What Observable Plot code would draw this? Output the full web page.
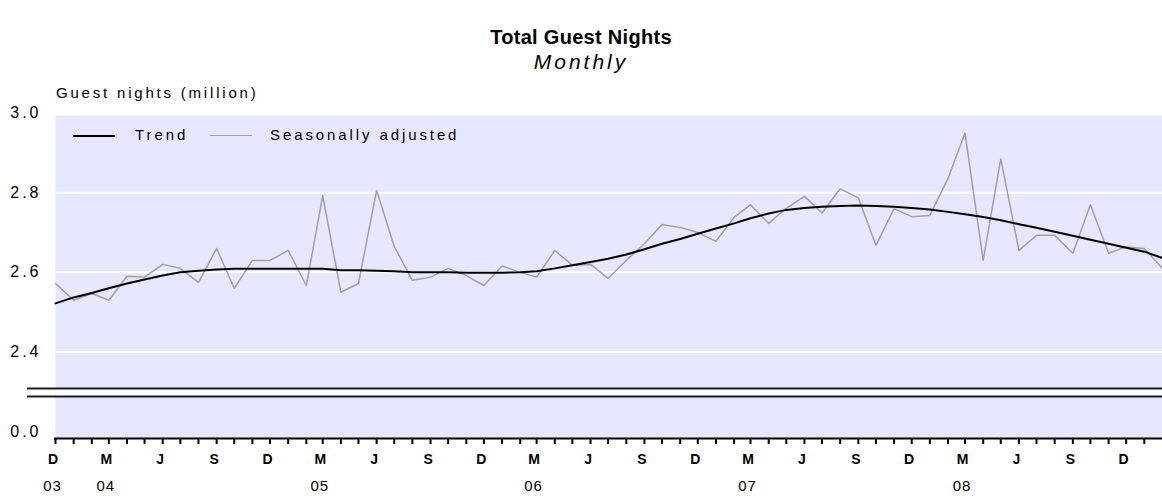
<!DOCTYPE html>
<html>
<head>
<meta charset="utf-8">
<script src="https://cdn.jsdelivr.net/npm/d3@7"></script>
<script src="https://cdn.jsdelivr.net/npm/@observablehq/plot@0.6"></script>
<style>
  body { margin: 0; background: #fff; font-family: "Liberation Sans", Arial, sans-serif; }
  #wrap { position: relative; width: 1162px; height: 497px; overflow: hidden; }
  #head { position: relative; height: 100px; }
  .abs { position: absolute; white-space: nowrap; color: #000; }
  #title { left: 0; width: 1162px; text-align: center; top: 25px; line-height: 24px; font-size: 20px; font-weight: bold; letter-spacing: 0.3px; }
  #subtitle { left: 0; width: 1162px; text-align: center; top: 50px; line-height: 24px; font-size: 21px; font-style: italic; letter-spacing: 3px; }
  #ylabel { left: 56px; top: 84px; line-height: 18px; font-size: 15px; letter-spacing: 2.8px; }
  #legend { left: 73px; top: 126px; height: 18px; line-height: 18px; font-size: 15px; letter-spacing: 2.9px; }
  .sw { position: absolute; top: 9px; height: 0; }
  svg [aria-label="y-axis tick label"] text { letter-spacing: 3px; }
  svg [aria-label="x-axis tick label"] text { letter-spacing: 1px; }
</style>
</head>
<body>
<div id="wrap">
  <div id="head">
    <div id="title" class="abs"></div>
    <div id="subtitle" class="abs"></div>
    <div id="ylabel" class="abs"></div>
  </div>
  <div id="chart"></div>
  <div id="legend" class="abs"></div>
</div>
<script>
// ---- Data ----
const titleText = "Total Guest Nights";
const subtitleText = "Monthly";
const yLabelText = "Guest nights (million)";
const seriesNames = ["Trend", "Seasonally adjusted"];
const seriesColors = ["#000000", "#a0a0a0"];

// Months Dec 2003 .. Feb 2009
const firstMonth = new Date(Date.UTC(2003, 11, 1));
const endMonth = new Date(Date.UTC(2009, 2, 1));
const months = d3.utcMonth.range(firstMonth, endMonth);

const seasonallyAdjusted = [
  2.572,
  2.530, 2.547, 2.530, 2.590, 2.588, 2.620, 2.610, 2.575, 2.660, 2.560, 2.630, 2.630,
  2.655, 2.567, 2.793, 2.550, 2.572, 2.806, 2.665, 2.580, 2.588, 2.610, 2.592, 2.567,
  2.616, 2.600, 2.588, 2.655, 2.618, 2.620, 2.585, 2.630, 2.672, 2.720, 2.713, 2.700,
  2.678, 2.738, 2.770, 2.723, 2.761, 2.791, 2.749, 2.810, 2.787, 2.668, 2.760, 2.740,
  2.743, 2.836, 2.950, 2.630, 2.885, 2.655, 2.693, 2.693, 2.648, 2.770, 2.648, 2.664,
  2.660, 2.610
];
const trend = [
  2.522,
  2.537, 2.548, 2.560, 2.572, 2.582, 2.592, 2.600, 2.604, 2.607, 2.609, 2.609, 2.609,
  2.609, 2.609, 2.609, 2.605, 2.605, 2.604, 2.603, 2.600, 2.600, 2.600, 2.599, 2.599,
  2.599, 2.600, 2.603, 2.610, 2.618, 2.626, 2.634, 2.645, 2.658, 2.672, 2.684, 2.697,
  2.710, 2.723, 2.736, 2.748, 2.757, 2.762, 2.765, 2.767, 2.768, 2.767, 2.765, 2.762,
  2.758, 2.752, 2.746, 2.739, 2.731, 2.721, 2.712, 2.702, 2.692, 2.682, 2.672, 2.662,
  2.652, 2.636
];

// Axis ticks and labels
const yTicks = [0, 2.4, 2.6, 2.8, 3.0];
const gridValues = [2.4, 2.6, 2.8];
const axisBreak = [2.288, 2.308];
const breakStart = 2.25;   // values below this are compressed (broken axis)
const monthLetters = ["J","F","M","A","M","J","J","A","S","O","N","D"];
const tickMonths = d3.utcMonth.range(firstMonth, new Date(Date.UTC(2009, 1, 1)));
const labelMonths = tickMonths.filter(d => d.getUTCMonth() % 3 === 2);
const yearLabelMonths = [
  new Date(Date.UTC(2003, 11, 1)), new Date(Date.UTC(2004, 2, 1)), new Date(Date.UTC(2005, 2, 1)),
  new Date(Date.UTC(2006, 2, 1)), new Date(Date.UTC(2007, 2, 1)), new Date(Date.UTC(2008, 2, 1))
];

const table = months.map((m, i) => ({month: m, sa: seasonallyAdjusted[i], trend: trend[i]}));

document.getElementById("title").textContent = titleText;
document.getElementById("subtitle").textContent = subtitleText;
document.getElementById("ylabel").textContent = yLabelText;

// legend
const leg = document.getElementById("legend");
leg.innerHTML = `
  <span class="sw" style="left:0px;width:42px;border-top:2px solid ${seriesColors[0]};"></span>
  <span class="abs" style="left:62px;top:0">${seriesNames[0]}</span>
  <span class="sw" style="left:137px;width:42px;border-top:1.5px solid ${seriesColors[1]};"></span>
  <span class="abs" style="left:197px;top:0">${seriesNames[1]}</span>`;

// broken axis: compress [0, breakStart] into [2.2, breakStart]
const breakTransform = v => v >= breakStart ? v : 2.2 + v * (breakStart - 2.2) / breakStart;

const chart = Plot.plot({
  width: 1162,
  height: 397,
  marginTop: 15,
  marginBottom: 59,
  marginLeft: 55,
  marginRight: 0,
  style: {fontFamily: "'Liberation Sans', Arial, sans-serif", color: "#000", background: "transparent", overflow: "visible"},
  x: {type: "utc", domain: [months[0], months[months.length - 1]], range: [55, 1162]},
  y: {type: "linear", transform: breakTransform, domain: [2.2, 3.0], range: [331, 12.7]},
  marks: [
    Plot.frame({fill: "#e6e6ff", stroke: null}),
    Plot.ruleY(gridValues, {stroke: "#ffffff", strokeWidth: 2}),
    Plot.ruleY([d3.mean(axisBreak)], {stroke: "#ffffff", strokeWidth: 8, insetLeft: -28}),
    Plot.ruleY(axisBreak, {stroke: "#1a1a1a", strokeWidth: 2, insetLeft: -28}),
    Plot.line(table, {x: "month", y: "sa", stroke: seriesColors[1], strokeWidth: 1.5}),
    Plot.line(table, {x: "month", y: "trend", stroke: seriesColors[0], strokeWidth: 2}),
    Plot.ruleY([0], {dy: 7, stroke: "#000", strokeWidth: 2, insetLeft: -1}),
    Plot.axisY(yTicks, {tickSize: 0, tickPadding: 14, fontSize: 16, tickFormat: d3.format(".1f"), label: null}),
    Plot.axisX(tickMonths, {tickSize: 6, tickFormat: () => "", label: null, strokeWidth: 2, stroke: "#000"}),
    Plot.axisX(labelMonths, {tickSize: 0, tickPadding: 16, fontSize: 14, fontWeight: 600, dx: -2, tickFormat: d => monthLetters[d.getUTCMonth()], label: null}),
    Plot.axisX(yearLabelMonths, {tickSize: 0, tickPadding: 42, fontSize: 15, dx: -3, tickFormat: d => String(d.getUTCFullYear() % 100).padStart(2, "0"), label: null})
  ]
});
document.getElementById("chart").appendChild(chart);
</script>
</body>
</html>
